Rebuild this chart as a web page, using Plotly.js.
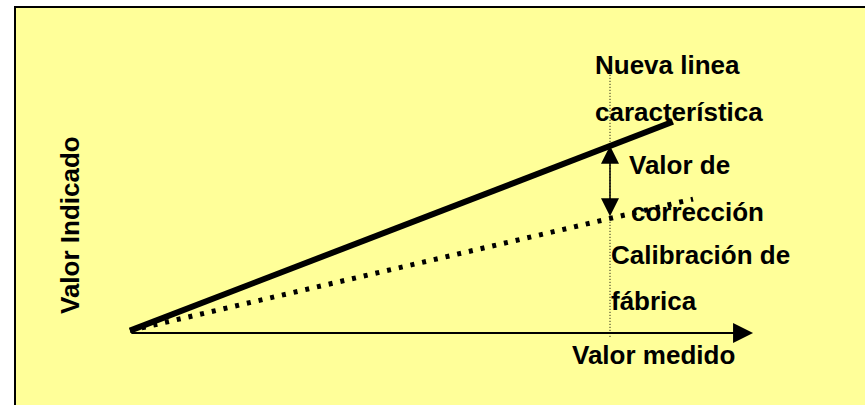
<!DOCTYPE html>
<html>
<head>
<meta charset="utf-8">
<script src="https://cdn.plot.ly/plotly-3.0.1.min.js"></script>
<style>html,body{margin:0;padding:0;background:#fff;}#chart{width:865px;height:405px;}</style>
</head>
<body>
<div id="chart"></div>
<script>
// Data (arbitrary units: measured value on x, indicated value on y)
var newLineX = [0, 11.31];
var newLineY = [0.05, 4.40];
var factoryX = [0, 11.73];
var factoryY = [0.05, 2.79];
var axisX = [0, 12.98];
var axisY = [0, 0];
var refX = [10, 10];
var refY = [-0.08, 5.42];
var correctionX = [10, 10];
var correctionY = [2.40, 3.90];

var labelNueva = ["Nueva linea", "característica"];
var labelCorr = ["Valor de", "corrección"];
var labelFab = ["Calibración de", "fábrica"];
var xTitle = "Valor medido";
var yTitle = "Valor Indicado";

var FONT = "Liberation Sans, Arial, sans-serif";
var FS = 26;

var traces = [
  {x: factoryX, y: factoryY, mode: "lines", line: {color: "#000", width: 5, dash: "4px,8px"}, hoverinfo: "skip"},
  {x: newLineX, y: newLineY, mode: "lines", line: {color: "#000", width: 6}, hoverinfo: "skip"},
  {x: refX, y: refY, mode: "lines", line: {color: "#000", width: 1, dash: "1px,2px"}, hoverinfo: "skip"}
];

function txt(t, x, y, opts) {
  var a = {text: "<b>" + t + "</b>", x: x, y: y, xref: "x", yref: "y", showarrow: false,
    xanchor: "left", yanchor: "middle", font: {family: FONT, size: FS, color: "#000"}};
  for (var k in opts) a[k] = opts[k];
  return a;
}

var annotations = [
  // x axis arrow
  {x: axisX[1], y: axisY[1], ax: axisX[0], ay: axisY[0], xref: "x", yref: "y", axref: "x", ayref: "y",
   text: "", showarrow: true, arrowhead: 2, arrowsize: 2, arrowwidth: 2, arrowcolor: "#000"},
  // correction double arrow
  {x: correctionX[1], y: correctionY[1], ax: correctionX[0], ay: correctionY[0], xref: "x", yref: "y", axref: "x", ayref: "y",
   text: "", showarrow: true, arrowhead: 2, startarrowhead: 2, arrowside: "end+start",
   arrowsize: 2.4, startarrowsize: 2.4, arrowwidth: 1.5, arrowcolor: "#000"},
  txt(labelNueva[0], 9.646, 5.592),
  txt(labelNueva[1], 9.646, 4.613),
  txt(labelCorr[0], 10.355, 3.509),
  txt(labelCorr[1], 10.396, 2.529),
  txt(labelFab[0], 9.98, 1.634),
  txt(labelFab[1], 9.98, 0.675),
  txt(xTitle, 9.167, -0.45),
  txt(yTitle, -1.25, 2.25, {xanchor: "center", textangle: -90})
];

var layout = {
  width: 865, height: 405,
  margin: {l: 0, r: 0, t: 0, b: 0, pad: 0},
  paper_bgcolor: "#ffffff",
  plot_bgcolor: "rgba(0,0,0,0)",
  showlegend: false,
  xaxis: {range: [-2.7083, 15.3125], visible: false, fixedrange: true},
  yaxis: {range: [-1.5, 6.9375], visible: false, fixedrange: true},
  shapes: [
    {type: "rect", xref: "paper", yref: "paper", x0: 15/865, x1: 1.02, y0: -0.02, y1: 1 - 7/405,
     fillcolor: "#FFFF99", line: {color: "#000", width: 2}, layer: "below"}
  ],
  annotations: annotations
};

Plotly.newPlot("chart", traces, layout, {staticPlot: true, displayModeBar: false});
</script>
</body>
</html>
